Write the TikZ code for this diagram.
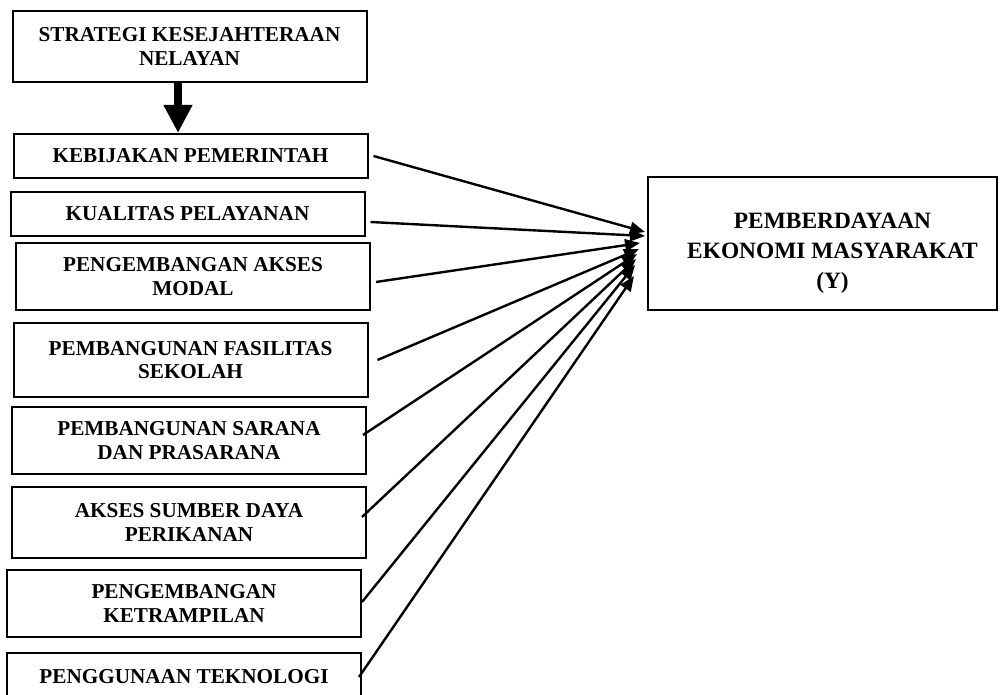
\documentclass[tikz,border=0pt]{standalone}
\usepackage{fontspec}
\setmainfont{Liberation Serif}
\usetikzlibrary{arrows.meta,calc}
\tikzset{
  lbox/.style={draw, line width=1pt, align=center, inner sep=0pt,
    font=\fontsize{10.6}{11.6}\selectfont\bfseries, minimum width=177pt},
  ybox/.style={draw, line width=1pt, inner sep=0pt},
  ytext/.style={align=center, inner sep=0pt,
    font=\fontsize{11.7}{15}\selectfont\bfseries},
  conn/.style={line width=1.2pt, -{Triangle[length=7.5pt,width=6pt]}},
  bigarrow/.style={line width=4pt, -{Triangle[length=14pt,width=13.5pt]}}
}
\begin{document}
\begin{tikzpicture}[x=0.5pt,y=-0.5pt]
\useasboundingbox (0,0) rectangle (1000,695);
\node[lbox, minimum height=35.5pt] (top) at (189.5,46.5) {STRATEGI KESEJAHTERAAN\\NELAYAN};
\node[lbox, minimum height=22pt] (kb) at (190.5,156) {KEBIJAKAN PEMERINTAH};
\node[lbox, minimum height=22pt] (kp) at (187.5,214) {KUALITAS PELAYANAN};
\node[lbox, minimum height=33.5pt] (pam) at (193,276.5) {PENGEMBANGAN AKSES\\MODAL};
\node[lbox, minimum height=37pt] (pfs) at (190.5,360) {PEMBANGUNAN FASILITAS\\SEKOLAH};
\node[lbox, minimum height=33.5pt] (psp) at (189,440.5) {PEMBANGUNAN SARANA\\DAN PRASARANA};
\node[lbox, minimum height=35.5pt] (asdp) at (189,522.5) {AKSES SUMBER DAYA\\PERIKANAN};
\node[lbox, minimum height=33.5pt] (pk) at (184,603.5) {PENGEMBANGAN\\KETRAMPILAN};
\node[lbox, minimum height=24pt] (pt) at (184,677) {PENGGUNAAN TEKNOLOGI};
\node[ybox, minimum width=174.5pt, minimum height=66.5pt] (y) at (822.5,243.5) {};
\node[ytext] (ylab) at ($(y.center)+(10,10)$) {PEMBERDAYAAN\\EKONOMI MASYARAKAT\\(Y)};

\draw[bigarrow] ([xshift=-5.75pt]top.south) -- ([xshift=-6.25pt]kb.north);

\coordinate (t1) at ($(y.west)+(-2,-11.5)$);
\coordinate (t2) at ($(y.west)+(-2,-7.5)$);
\coordinate (t3) at ($(y.west)+(-7,-0.5)$);
\coordinate (t4) at ($(y.west)+(-8,5.5)$);
\coordinate (t5) at ($(y.west)+(-10,10.5)$);
\coordinate (t6) at ($(y.west)+(-11,15.5)$);
\coordinate (t7) at ($(y.west)+(-12,21.5)$);
\coordinate (t8) at ($(y.west)+(-13,32.5)$);

\draw[conn] ($(kb.east)+(5,0)$) -- (t1);
\draw[conn] ($(kp.east)+(5,8)$) -- (t2);
\draw[conn] ($(pam.east)+(5,5.5)$) -- (t3);
\draw[conn] ($(pfs.east)+(9,0)$) -- (t4);
\draw[conn] ($(psp.east)+(-4,-5.5)$) -- (t5);
\draw[conn] ($(asdp.east)+(-5,-5.5)$) -- (t6);
\draw[conn] ($(pk.east)+(0,-1.5)$) -- (t7);
\draw[conn] ($(pt.east)+(-3,0)$) -- (t8);
\end{tikzpicture}
\end{document}
